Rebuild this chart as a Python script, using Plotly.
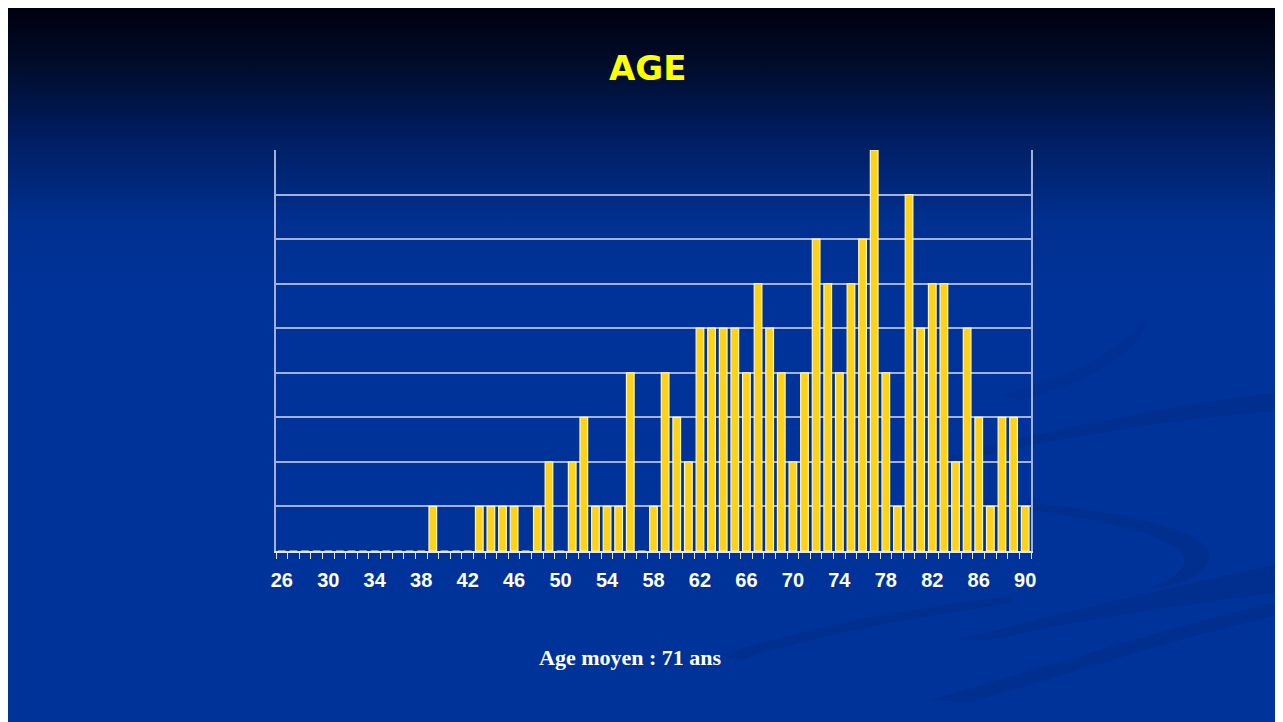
import base64
import plotly.graph_objects as go

# ---------------- data ----------------
ages = list(range(26, 91))
counts = [0] * 13 + [
    1, 0, 0, 0,          # 39-42
    1, 1, 1, 1,          # 43-46
    0, 1, 2, 0,          # 47-50
    2, 3, 1, 1, 1, 4,    # 51-56
    0, 1, 4, 3, 2,       # 57-61
    5, 5, 5, 5, 4,       # 62-66
    6, 5, 4, 2, 4,       # 67-71
    7, 6, 4, 6, 7, 9,    # 72-77
    4, 1, 8, 5, 6, 6,    # 78-83
    2, 5, 3, 1, 3, 3, 1  # 84-90
]
tick_labels = [str(a) for a in range(26, 91, 4)]
tick_vals = list(range(26, 91, 4))
title_text = "AGE"
footer_text = "Age moyen : 71 ans"

# ---------------- layout geometry ----------------
OFF = 8  # page body margin
W, H = 1283 - OFF, 722 - OFF
ML, MR, MT, MB = 276 - OFF, 252, 150 - OFF, 171
PW, PH = W - ML - MR, H - MT - MB

# ---------------- background (svg gradient + faint swooshes) ----------------
svg = f'''<svg xmlns="http://www.w3.org/2000/svg" width="{W}" height="{H}" viewBox="{OFF} {OFF} {W} {H}">
<defs><linearGradient id="g" x1="0" y1="0" x2="0" y2="1">
<stop offset="0" stop-color="#00000f"/>
<stop offset="0.08" stop-color="#000c2a"/>
<stop offset="0.18" stop-color="#001d60"/>
<stop offset="0.30" stop-color="#003090"/>
<stop offset="0.40" stop-color="#003399"/>
<stop offset="1" stop-color="#003399"/>
</linearGradient></defs>
<rect x="0" y="7" width="1283" height="715" fill="url(#g)"/>
<g fill="#002b88" fill-opacity="0.55">
<path d="M900 470 C1000 440 1150 408 1283 392 L1283 410 C1150 422 1040 440 930 468 Z"/>
<path d="M980 500 C1100 505 1210 528 1210 556 C1208 576 1180 586 1150 588 C1178 578 1190 566 1182 552 C1160 532 1080 514 980 504 Z"/>
<path d="M960 640 C1060 612 1170 588 1283 563 L1283 592 C1170 606 1070 622 990 640 Z"/>
<path d="M720 655 C800 630 900 608 1010 597 L1015 603 C900 618 800 640 740 660 Z"/>
<path d="M930 700 C1040 668 1160 630 1283 600 L1283 614 C1160 642 1060 678 970 702 Z"/>
<path d="M1000 395 C1060 380 1130 350 1148 310 C1150 340 1110 378 1020 400 Z" fill-opacity="0.3"/>
</g>
</svg>'''
svg_uri = "data:image/svg+xml;base64," + base64.b64encode(svg.encode()).decode()

# ---------------- figure ----------------
fig = go.Figure()
fig.add_trace(go.Bar(
    x=ages, y=counts, width=0.66,
    marker=dict(color="#ffd21a", line=dict(color="#fff6b8", width=1.2)),
    hoverinfo="x+y",
))

grid_col = "#a3b1d9"
fig.update_layout(
    width=W, height=H,
    margin=dict(l=ML, r=MR, t=MT, b=MB),
    paper_bgcolor="#003399",
    plot_bgcolor="rgba(0,0,0,0)",
    showlegend=False,
    images=[dict(
        source=svg_uri, xref="paper", yref="paper",
        x=-ML / PW, y=1 + MT / PH, sizex=W / PW, sizey=H / PH,
        xanchor="left", yanchor="top", sizing="stretch", layer="below",
    )],
    xaxis=dict(
        range=[25.5, 90.5],
        tickvals=tick_vals, ticktext=tick_labels,
        ticks="", showgrid=False, zeroline=False,
        showline=True, linecolor="#dfe6f5", linewidth=2,
        ticklabelstandoff=10,
        tickfont=dict(family="Liberation Sans, Arial", size=20, color="#ffffff", weight="bold"),
        minor=dict(ticks="outside", tick0=25.5, dtick=1, ticklen=6,
                   tickcolor="#dfe6f5", tickwidth=1, showgrid=False),
    ),
    yaxis=dict(
        range=[0, 9], dtick=1, showticklabels=False, ticks="",
        showgrid=True, gridcolor=grid_col, gridwidth=2, zeroline=False,
        showline=True, linecolor=grid_col, linewidth=2, mirror=True,
    ),
)

def px_to_paper(xp, yp):
    return (xp - OFF - ML) / PW, 1 - (yp - OFF - MT) / PH

ax, ay = px_to_paper(647, 68)
fx, fy = px_to_paper(630, 657)
fig.add_annotation(text=f"<b>{title_text}</b>", x=ax, y=ay, xref="paper", yref="paper",
                   xanchor="center", yanchor="middle", showarrow=False,
                   font=dict(family="Comic Sans MS, DejaVu Sans", size=34, color="#ffff00"))
fig.add_annotation(text=f"<b>{footer_text}</b>", x=fx, y=fy, xref="paper", yref="paper",
                   xanchor="center", yanchor="middle", showarrow=False,
                   font=dict(family="Liberation Serif, Times New Roman", size=22, color="#ffffff"))

fig.write_html("out.html")
